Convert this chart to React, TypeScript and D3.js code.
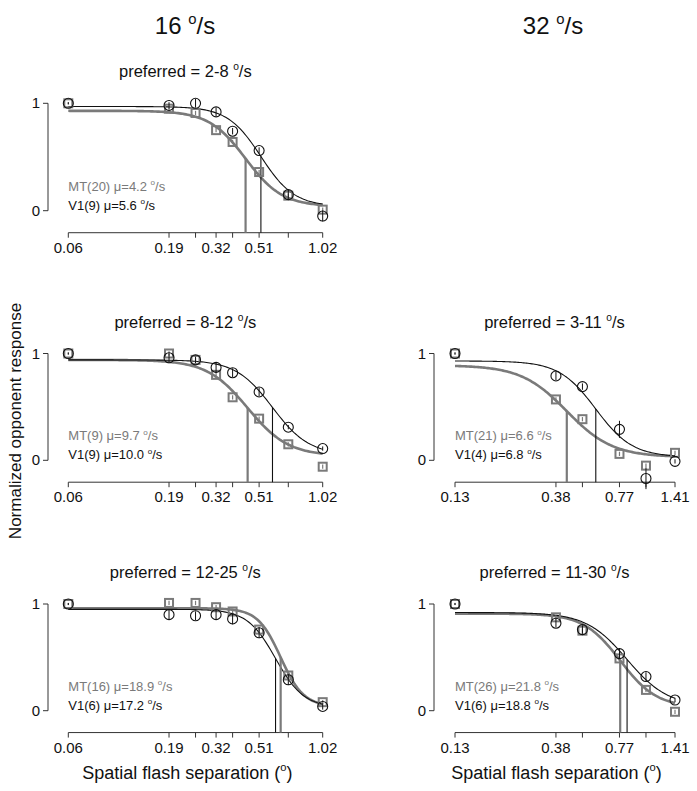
import { useEffect, useRef } from "react";
import * as d3 from "d3";

// flash separations (deg) and their tick labels
const sepLeft = [0.0637, 0.191, 0.255, 0.319, 0.382, 0.51, 0.701, 1.02];
const sepRight = [0.127, 0.382, 0.51, 0.764, 1.02, 1.4];
const tickLabelsLeft = ["0.06", "0.19", "", "0.32", "", "0.51", "", "1.02"];
const tickLabelsRight = ["0.13", "0.38", "", "0.77", "", "1.41"];

// normalized opponent response: MT (gray squares), V1 (black circles)
const mt_2_8 = [1.0, 0.95, 0.91, 0.75, 0.64, 0.36, 0.14, 0.01];
const v1_2_8 = [1.0, 0.98, 1.0, 0.92, 0.74, 0.56, 0.15, -0.05];
const mt_8_12 = [1.0, 1.0, 0.94, 0.8, 0.59, 0.39, 0.15, -0.06];
const v1_8_12 = [1.0, 0.96, 0.94, 0.87, 0.82, 0.64, 0.31, 0.11];
const mt_12_25 = [1.0, 1.01, 1.01, 0.97, 0.93, 0.76, 0.33, 0.08];
const v1_12_25 = [1.0, 0.9, 0.89, 0.9, 0.86, 0.73, 0.29, 0.04];
const mt_3_11 = [1.0, 0.57, 0.385, 0.06, -0.05, 0.07];
const v1_3_11 = [1.0, 0.79, 0.69, 0.29, -0.17, -0.01];
const mt_11_30 = [1.0, 0.875, 0.75, 0.49, 0.195, -0.01];
const v1_11_30 = [1.0, 0.82, 0.76, 0.535, 0.32, 0.1];

// error bar half lengths
const mtErrLeft = [0.01, 0.02, 0.02, 0.02, 0.02, 0.02, 0.02, 0.02];
const v1Err_2_8 = [0.01, 0.03, 0.04, 0.04, 0.03, 0.03, 0.04, 0.05];
const v1Err_8_12 = [0.01, 0.04, 0.03, 0.05, 0.04, 0.04, 0.02, 0.02];
const v1Err_12_25 = [0.01, 0.05, 0.04, 0.05, 0.05, 0.05, 0.05, 0.03];
const mtErrRight = [0.01, 0.02, 0.02, 0.02, 0.02, 0.02];
const v1Err_3_11 = [0.01, 0.04, 0.03, 0.08, 0.1, 0.02];
const v1Err_11_30 = [0.01, 0.04, 0.04, 0.05, 0.04, 0.02];

// fitted curves: [top, bottom, x50, exponent]
const mtFit_2_8 = [0.93, 0.04, 0.44, 5];
const v1Fit_2_8 = [0.97, 0.04, 0.52, 5.5];
const mtFit_8_12 = [0.94, 0.04, 0.45, 4.5];
const v1Fit_8_12 = [0.94, 0.05, 0.59, 5];
const mtFit_12_25 = [0.96, 0.04, 0.645, 8];
const v1Fit_12_25 = [0.95, 0.03, 0.61, 6.5];
const mtFit_3_11 = [0.89, 0.03, 0.43, 4];
const v1Fit_3_11 = [0.93, 0.03, 0.59, 5];
const mtFit_11_30 = [0.91, 0.03, 0.77, 5];
const v1Fit_11_30 = [0.92, 0.04, 0.83, 4.5];

const GRAY = "#7a7a7a";
const FONT = "Liberation Sans, Arial, Helvetica, sans-serif";

const panels = [
  { col: 0, row: 0, title: "preferred = 2-8 ", mtLab: "MT(20) \u03bc=4.2 ", v1Lab: "V1(9) \u03bc=5.6 ",
    mt: mt_2_8, v1: v1_2_8, mtErr: mtErrLeft, v1Err: v1Err_2_8, mtFit: mtFit_2_8, v1Fit: v1Fit_2_8 },
  { col: 0, row: 1, title: "preferred = 8-12 ", mtLab: "MT(9) \u03bc=9.7 ", v1Lab: "V1(9) \u03bc=10.0 ",
    mt: mt_8_12, v1: v1_8_12, mtErr: mtErrLeft, v1Err: v1Err_8_12, mtFit: mtFit_8_12, v1Fit: v1Fit_8_12 },
  { col: 0, row: 2, title: "preferred = 12-25 ", mtLab: "MT(16) \u03bc=18.9 ", v1Lab: "V1(6) \u03bc=17.2 ",
    mt: mt_12_25, v1: v1_12_25, mtErr: mtErrLeft, v1Err: v1Err_12_25, mtFit: mtFit_12_25, v1Fit: v1Fit_12_25 },
  { col: 1, row: 1, title: "preferred = 3-11 ", mtLab: "MT(21) \u03bc=6.6 ", v1Lab: "V1(4) \u03bc=6.8 ",
    mt: mt_3_11, v1: v1_3_11, mtErr: mtErrRight, v1Err: v1Err_3_11, mtFit: mtFit_3_11, v1Fit: v1Fit_3_11 },
  { col: 1, row: 2, title: "preferred = 11-30 ", mtLab: "MT(26) \u03bc=21.8 ", v1Lab: "V1(6) \u03bc=18.8 ",
    mt: mt_11_30, v1: v1_11_30, mtErr: mtErrRight, v1Err: v1Err_11_30, mtFit: mtFit_11_30, v1Fit: v1Fit_11_30 },
];

const hill = (p: number[], x: number) => p[1] + (p[0] - p[1]) / (1 + Math.pow(x / p[2], p[3]));

// text with a raised "o" as the degree sign
function degText(sel: any, prefix: string, suffix: string, size: number) {
  sel.append("tspan").text(prefix);
  sel.append("tspan").attr("font-size", size * 0.62).attr("dy", -size * 0.42).text("o");
  sel.append("tspan").attr("dy", size * 0.42).text(suffix);
}

const App = () => {
  const ref = useRef<SVGSVGElement | null>(null);

  useEffect(() => {
    if (!ref.current) return;
    const svg = d3.select(ref.current);
    svg.selectAll("*").remove();

    const colX = [
      { axis: 48, x0: 68.3, x1: 322.7, seps: sepLeft, labels: tickLabelsLeft },
      { axis: 434, x0: 455, x1: 675, seps: sepRight, labels: tickLabelsRight },
    ];
    const rowY = [
      { y1: 103.3, y0: 210.7 },
      { y1: 353.5, y0: 460.3 },
      { y1: 604, y0: 710.7 },
    ];

    // column headers
    [["16 ", 185], ["32 ", 553]].forEach(([t, cx]) => {
      const txt = svg.append("text").attr("x", cx as number).attr("y", 34)
        .attr("text-anchor", "middle").attr("font-size", 24).attr("fill", "#111");
      degText(txt, t as string, "/s", 24);
    });

    panels.forEach(p => {
      const c = colX[p.col];
      const r = rowY[p.row];
      const seps = c.seps;
      const x = d3.scaleLog().domain([seps[0], seps[seps.length - 1]]).range([c.x0, c.x1]);
      const y = d3.scaleLinear().domain([0, 1]).range([r.y0, r.y1]);
      const axisY = y(-0.205);
      const g = svg.append("g");

      // title
      const tt = g.append("text").attr("x", (c.axis + c.x1) / 2).attr("y", r.y1 - 26)
        .attr("text-anchor", "middle").attr("font-size", 16.5).attr("fill", "#111");
      degText(tt, p.title, "/s", 16.5);

      // y axis
      g.append("line").attr("x1", c.axis).attr("x2", c.axis).attr("y1", y(1)).attr("y2", y(0))
        .attr("stroke", "#333").attr("stroke-width", 1);
      [0, 1].forEach(v => {
        g.append("line").attr("x1", c.axis - 5).attr("x2", c.axis).attr("y1", y(v)).attr("y2", y(v))
          .attr("stroke", "#333").attr("stroke-width", 1);
        g.append("text").attr("x", c.axis - 8).attr("y", y(v) + 5).attr("text-anchor", "end")
          .attr("font-size", 15).attr("fill", "#111").text(String(v));
      });

      // x axis
      g.append("line").attr("x1", x(seps[0])).attr("x2", x(seps[seps.length - 1]))
        .attr("y1", axisY).attr("y2", axisY).attr("stroke", "#333").attr("stroke-width", 1);
      seps.forEach((s, i) => {
        g.append("line").attr("x1", x(s)).attr("x2", x(s)).attr("y1", axisY).attr("y2", axisY + 5)
          .attr("stroke", "#333").attr("stroke-width", 1);
        if (c.labels[i]) {
          g.append("text").attr("x", x(s)).attr("y", axisY + 20).attr("text-anchor", "middle")
            .attr("font-size", 15).attr("fill", "#111").text(c.labels[i]);
        }
      });

      // fitted curves
      const lo = seps[0], hi = seps[seps.length - 1];
      const xs = d3.range(0, 161).map(i => lo * Math.pow(hi / lo, i / 160));
      const line = d3.line<number>().x(d => x(d));
      g.append("path").attr("d", line.y(d => y(hill(p.mtFit, d)))(xs))
        .attr("fill", "none").attr("stroke", GRAY).attr("stroke-width", 2.6);
      g.append("path").attr("d", line.y(d => y(hill(p.v1Fit, d)))(xs))
        .attr("fill", "none").attr("stroke", "#111").attr("stroke-width", 1.1);

      // threshold lines
      g.append("line").attr("x1", x(p.mtFit[2])).attr("x2", x(p.mtFit[2]))
        .attr("y1", y(hill(p.mtFit, p.mtFit[2]))).attr("y2", axisY)
        .attr("stroke", GRAY).attr("stroke-width", 2.2);
      g.append("line").attr("x1", x(p.v1Fit[2])).attr("x2", x(p.v1Fit[2]))
        .attr("y1", y(hill(p.v1Fit, p.v1Fit[2]))).attr("y2", axisY)
        .attr("stroke", "#111").attr("stroke-width", 1.1);

      // MT squares
      p.mt.forEach((v, i) => {
        const cx = x(seps[i]), cy = y(v);
        g.append("rect").attr("x", cx - 4).attr("y", cy - 4).attr("width", 8).attr("height", 8)
          .attr("fill", "white").attr("fill-opacity", 0).attr("stroke", GRAY).attr("stroke-width", 2);
        g.append("line").attr("x1", cx).attr("x2", cx).attr("y1", y(v - p.mtErr[i])).attr("y2", y(v + p.mtErr[i]))
          .attr("stroke", GRAY).attr("stroke-width", 1.2);
      });

      // V1 circles
      p.v1.forEach((v, i) => {
        const cx = x(seps[i]), cy = y(v);
        g.append("circle").attr("cx", cx).attr("cy", cy).attr("r", 5)
          .attr("fill", "none").attr("stroke", "#111").attr("stroke-width", 1.1);
        g.append("line").attr("x1", cx).attr("x2", cx).attr("y1", y(v - p.v1Err[i])).attr("y2", y(v + p.v1Err[i]))
          .attr("stroke", "#111").attr("stroke-width", 1);
      });

      // labels
      const ml = g.append("text").attr("x", c.x0).attr("y", r.y0 - 20).attr("font-size", 13).attr("fill", GRAY);
      degText(ml, p.mtLab, "/s", 13);
      const vl = g.append("text").attr("x", c.x0).attr("y", r.y0 - 1).attr("font-size", 13).attr("fill", "#111");
      degText(vl, p.v1Lab, "/s", 13);

      // x label on bottom row
      if (p.row === 2) {
        const xl = g.append("text").attr("x", (c.axis + c.x1) / 2 + 2).attr("y", 779)
          .attr("text-anchor", "middle").attr("font-size", 18).attr("fill", "#111");
        degText(xl, "Spatial flash separation (", ")", 18);
      }
    });

    svg.append("text").attr("transform", "translate(21,421) rotate(-90)").attr("text-anchor", "middle")
      .attr("font-size", 17).attr("fill", "#111").text("Normalized opponent response");
  }, []);

  return (
    <svg ref={ref} width={697} height={791}
      style={{ position: "absolute", left: 0, top: 0, background: "white", fontFamily: FONT }} />
  );
};

export default App;
